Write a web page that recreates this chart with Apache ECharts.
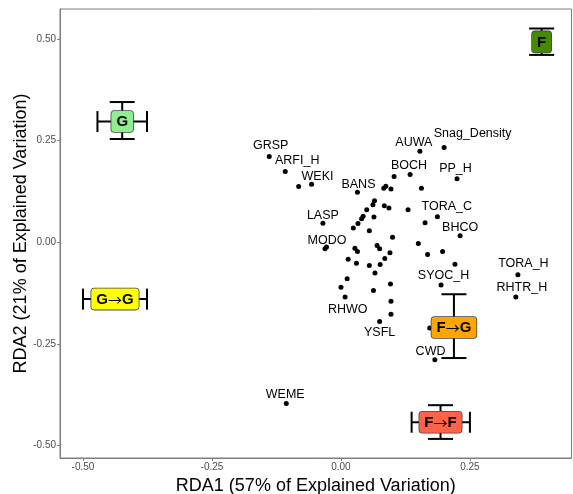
<!DOCTYPE html>
<html><head><meta charset="utf-8">
<script src="https://cdn.jsdelivr.net/npm/echarts@6/dist/echarts.min.js"></script>
<style>html,body{margin:0;padding:0;background:#fff}#c{width:573px;height:494px}</style>
</head><body><div id="c"></div>
<script>
// ---- data ----
const pointNames = ['GRSP','ARFI_H','','WEKI','BANS','LASP','MODO','','AUWA','Snag_Density',
  '','BOCH','PP_H','','','TORA_C','','BHCO','','',
  '','','SYOC_H','TORA_H','RHTR_H','CWD','','YSFL','RHWO','WEME',
  '','','','','','','','','','',
  '','','','','','','','','','',
  '','','','','','','','','','',
  '',''];
const pointX = [-0.139,-0.108,-0.082,-0.057,0.032,-0.035,-0.031,-0.028,0.153,0.200,
  0.103,0.134,0.225,0.156,0.130,0.187,0.163,0.231,0.150,0.168,
  0.197,0.221,0.194,0.343,0.339,0.182,0.172,0.075,0.008,-0.106,
  0.083,0.087,0.097,0.065,0.062,0.084,0.093,0.050,0.043,0.040,
  0.033,0.024,0.064,0.055,0.100,0.027,0.032,0.070,0.075,0.095,
  0.085,0.076,0.055,0.030,0.014,0.066,0.012,0.000,0.063,0.096,
  0.097,0.097];
const pointY = [0.211,0.174,0.137,0.143,0.123,0.047,-0.016,-0.012,0.224,0.233,
  0.162,0.167,0.156,0.133,0.080,0.063,0.048,0.016,-0.003,-0.030,
  -0.023,-0.054,-0.105,-0.080,-0.135,-0.289,-0.211,-0.195,-0.135,-0.397,
  0.133,0.138,0.131,0.102,0.092,0.090,0.084,0.080,0.064,0.058,
  0.046,0.035,0.062,0.028,0.012,-0.015,-0.023,-0.008,-0.016,-0.026,
  -0.040,-0.055,-0.057,-0.052,-0.042,-0.076,-0.090,-0.111,-0.119,-0.103,
  -0.145,-0.177];

const groupNames = ['G','F','G→G','F→G','F→F'];
const groupX     = [-0.424, 0.389, -0.438, 0.219, 0.193];
const groupY     = [ 0.297, 0.493, -0.140, -0.210, -0.443];
const groupXLow  = [-0.472, 0.380, -0.500, 0.205, 0.137];
const groupXHigh = [-0.376, 0.398, -0.376, 0.233, 0.250];
const groupYLow  = [ 0.254, 0.461, -0.160, -0.285, -0.484];
const groupYHigh = [ 0.345, 0.526, -0.120, -0.128, -0.401];

const xTicks = [-0.5, -0.25, 0, 0.25];
const yTicks = [-0.5, -0.25, 0, 0.25, 0.5];
const xTitle = 'RDA1 (57% of Explained Variation)';
const yTitle = 'RDA2 (21% of Explained Variation)';

// ---- styles ----
const groupColors = {'G':'#90EE90','F':'#458B00','G→G':'#FFFF00','F→G':'#FFA500','F→F':'#FF6347'};
const labelOffsets = {
  'GRSP':[1.5,-11],'ARFI_H':[12,-11],'WEKI':[6,-7.5],'BANS':[1,-8],'LASP':[0,-8],'MODO':[2,-8],
  'AUWA':[-6,-9],'Snag_Density':[28.5,-13.7],'BOCH':[-1,-9],'PP_H':[-1.5,-10],'TORA_C':[9.4,-10],
  'BHCO':[0,-8],'SYOC_H':[2.5,-9],'TORA_H':[5.5,-10.7],'RHTR_H':[6,-9.6],'RHWO':[2.7,12],
  'YSFL':[0,10.6],'CWD':[-4.3,-7.7],'WEME':[-1,-9]
};
const FONT = '"Liberation Sans", Arial, sans-serif';

const pts = pointX.map((x, i) => {
  const n = pointNames[i];
  if (!n) return {value: [x, pointY[i]]};
  return {value: [x, pointY[i]], name: n,
    label: {show: true, position: 'inside', formatter: n, color: '#000', fontSize: 12.5, fontFamily: FONT,
      offset: labelOffsets[n] || [0, -9]}};
});

const groups = groupNames.map((n, i) => [groupX[i], groupY[i], groupXLow[i], groupXHigh[i], groupYLow[i], groupYHigh[i]]);

function richText(n) {
  return n.split('→').map(s => '{b|' + s + '}').join('{a|→}');
}

const chart = echarts.init(document.getElementById('c'), null, {renderer: 'canvas'});
const axisCommon = {
  axisLine: {show: true, onZero: false, lineStyle: {color: '#7f7f7f', width: 1}},
  axisTick: {show: true, length: 3, lineStyle: {color: '#7f7f7f'}},
  splitLine: {show: false},
  axisLabel: {color: '#4D4D4D', fontSize: 10, fontFamily: FONT, formatter: v => v.toFixed(2)},
  nameLocation: 'middle',
  nameMoveOverlap: false,
  nameTextStyle: {color: '#000', fontSize: 18, fontFamily: FONT}
};
chart.setOption({
  animation: false,
  backgroundColor: '#fff',
  grid: {left: 60, right: 1.5, top: 9, bottom: 36, show: true, borderColor: '#7f7f7f', borderWidth: 1,
    containLabel: false, outerBoundsMode: 'none'},
  xAxis: Object.assign({}, axisCommon, {
    type: 'value', min: -0.5446, max: 0.4469, name: xTitle, nameGap: 19,
    axisTick: Object.assign({}, axisCommon.axisTick, {customValues: xTicks}),
    axisLabel: Object.assign({}, axisCommon.axisLabel, {customValues: xTicks, margin: 4})
  }),
  yAxis: Object.assign({}, axisCommon, {
    type: 'value', min: -0.531, max: 0.574, name: yTitle, nameGap: 30,
    axisTick: Object.assign({}, axisCommon.axisTick, {customValues: yTicks}),
    axisLabel: Object.assign({}, axisCommon.axisLabel, {customValues: yTicks, margin: 4})
  }),
  series: [
    {
      type: 'scatter', data: pts, symbol: 'circle', symbolSize: 5,
      itemStyle: {color: '#000', opacity: 1}, z: 2,
      label: {show: false, color: '#000', fontSize: 12.5, fontFamily: FONT},
      emphasis: {disabled: true}
    },
    {
      type: 'custom', z: 5, data: groups,
      renderItem: function (params, api) {
        const i = params.dataIndex;
        const c = api.coord([api.value(0), api.value(1)]);
        const xl = api.coord([api.value(2), api.value(1)]);
        const xh = api.coord([api.value(3), api.value(1)]);
        const yl = api.coord([api.value(0), api.value(4)]);
        const yh = api.coord([api.value(0), api.value(5)]);
        const ls = {stroke: '#000', lineWidth: 2};
        const ch = 10.5, cw = 12.5;
        const line = (x1, y1, x2, y2) => ({type: 'line', shape: {x1, y1, x2, y2}, style: ls});
        const n = groupNames[i];
        return {type: 'group', children: [
          line(xl[0], c[1], xh[0], c[1]),
          line(xl[0], c[1] - ch, xl[0], c[1] + ch),
          line(xh[0], c[1] - ch, xh[0], c[1] + ch),
          line(c[0], yl[1], c[0], yh[1]),
          line(c[0] - cw, yl[1], c[0] + cw, yl[1]),
          line(c[0] - cw, yh[1], c[0] + cw, yh[1]),
          {type: 'text', x: c[0], y: c[1], z2: 10, style: {
            text: richText(n), fill: '#000',
            align: 'center', verticalAlign: 'middle',
            rich: {
              b: {font: 'bold 15px ' + FONT, fill: '#000', lineHeight: 16},
              a: {font: '14px "Noto Sans CJK SC", sans-serif', fill: '#000', lineHeight: 16}
            },
            backgroundColor: groupColors[n], borderColor: '#444', borderWidth: 0.8,
            borderRadius: 3, padding: [3, 5, 2, 5]
          }}
        ]};
      }
    }
  ]
});
</script>
</body></html>
